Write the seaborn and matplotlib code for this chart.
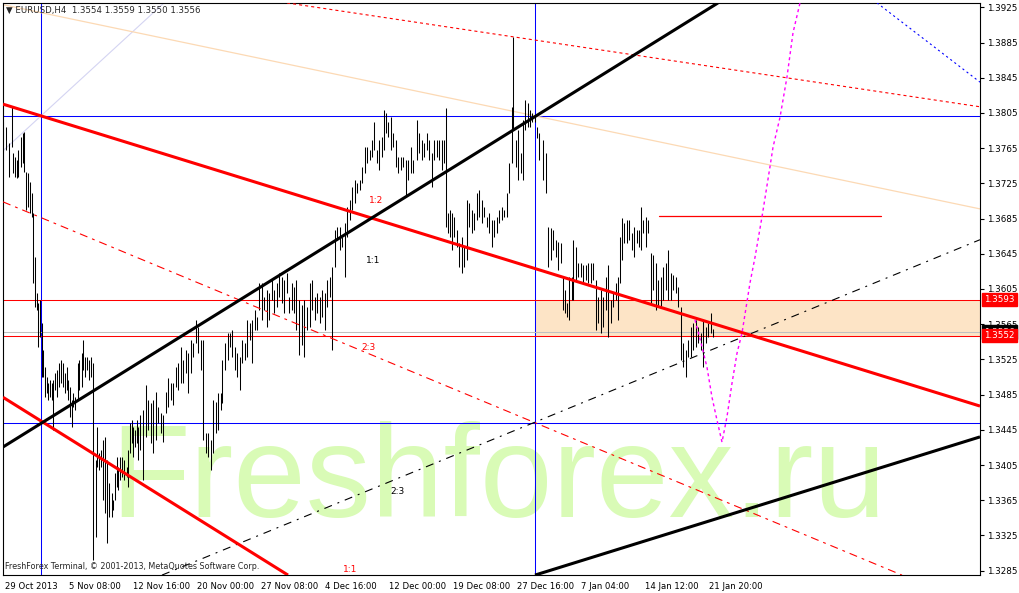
import matplotlib
matplotlib.use('Agg')
import matplotlib.pyplot as plt
import matplotlib.transforms as mtransforms
from matplotlib.patches import Rectangle
import seaborn as sns

sns.set_style('white')
plt.rcParams['font.family'] = ['DejaVu Sans']
plt.rcParams['lines.scale_dashes'] = False

# H4 bars: bar number, high, low
bar_pos = [0, 1.5, 3, 4.5, 5, 6, 7, 7.5, 9, 10, 10.5, 11.5, 12.5, 13.5, 14.5, 15, 16, 17, 17.5, 18.5,
           19.5, 20, 21, 22, 22.5, 23.5, 24.5, 25, 26, 27, 28, 29, 30, 31, 32, 32.5, 33.5, 34.5, 35, 36,
           37.5, 38, 39.5, 40, 41, 42, 43, 44, 45, 46.5, 47, 48, 49, 50, 51, 52, 53, 54.5, 55, 56,
           57, 57.5, 58.5, 59.5, 60.5, 62, 62.5, 63.5, 64.5, 65, 66, 67, 67.5, 68.5, 70, 71.5, 72.5, 74, 75, 76.5,
           77.5, 79, 80, 81.5, 82.5, 84, 85, 86.5, 87.5, 89, 90, 91.5, 92.5, 94, 95, 96.5, 97.5, 99, 100, 101.5,
           102.5, 104, 105, 106.5, 107.5, 109, 109.5, 111, 112.5, 113.5, 114.5, 116, 117, 118.5, 119.5, 121, 122, 123.5, 124.5, 126,
           127, 128, 129.5, 130.5, 132, 133, 134.5, 135.5, 137, 138, 139.5, 140.5, 142, 143, 144.5, 145.5, 146.5, 148, 149.5, 150.5,
           152, 153.5, 154.5, 156, 157, 158.5, 159.5, 161, 162, 163.5, 164.5, 166, 167, 168.5, 169.5, 171, 172, 173.5, 174.5, 176,
           177, 178.5, 179.5, 181, 182, 183.5, 184.5, 185.5, 187, 188, 189.5, 190.5, 191.5, 192.5, 194, 195, 196.5, 197.5, 199, 200,
           201.5, 202.5, 204, 205, 207, 208, 209.5, 210.5, 212, 213, 214.5, 215.5, 217, 218, 219.5, 220.5, 221.5, 222.5, 223.5, 224.5,
           225.5, 227, 228, 229.5, 230.5, 232, 233, 234.5, 235.5, 237, 238, 239.5, 240.5, 242, 243, 244.5, 245.5, 247, 248, 249.5,
           250.5, 252, 253, 254.5, 255, 256.5, 257.5, 259, 260, 261, 262.5, 263.5, 264.5, 266, 267, 268, 270, 271.5, 272.5, 274,
           275, 276.5, 277.5, 279, 280, 281, 282, 283, 284.5, 285, 286.5, 287.5, 289, 290, 291.5, 292.5, 294, 295, 296.5, 297.5,
           299, 300, 301.5, 302.5, 304, 305, 306.5, 307.5, 308.5, 309.5, 310.5, 312, 313, 314.5, 315.5, 317, 318, 319, 320, 321.5,
           322.5, 324, 325, 326.5, 327.5, 329, 330, 331.5, 332.5, 334, 335, 336.5, 337.5, 339, 340, 341.5, 342.5, 344, 345, 346.5,
           347.5, 349, 350, 351.5, 352.5, 354, 355]
bar_high = [1.3795, 1.3789, 1.3771, 1.3812, 1.3760, 1.3755, 1.3752, 1.3763, 1.3778, 1.3782, 1.3783, 1.3738, 1.3737, 1.3727, 1.3714, 1.3691, 1.3641, 1.3601, 1.3589, 1.3593,
            1.3566, 1.3536, 1.3516, 1.3505, 1.3498, 1.3502, 1.3498, 1.3502, 1.3510, 1.3513, 1.3521, 1.3524, 1.3521, 1.3510, 1.3516, 1.3502, 1.3494, 1.3479, 1.3487, 1.3482,
            1.3521, 1.3524, 1.3532, 1.3547, 1.3528, 1.3528, 1.3524, 1.3528, 1.3521, 1.3411, 1.3448, 1.3419, 1.3422, 1.3434, 1.3437, 1.3411, 1.3385, 1.3373, 1.3365, 1.3396,
            1.3414, 1.3403, 1.3414, 1.3414, 1.3411, 1.3403, 1.3422, 1.3453, 1.3456, 1.3448, 1.3445, 1.3456, 1.3448, 1.3462, 1.3468, 1.3496, 1.3479, 1.3476, 1.3479, 1.3488,
            1.3471, 1.3464, 1.3462, 1.3488, 1.3504, 1.3498, 1.3498, 1.3516, 1.3521, 1.3539, 1.3524, 1.3536, 1.3532, 1.3547, 1.3544, 1.3570, 1.3562, 1.3547, 1.3547, 1.3441,
            1.3441, 1.3434, 1.3479, 1.3477, 1.3487, 1.3487, 1.3524, 1.3544, 1.3555, 1.3555, 1.3558, 1.3539, 1.3532, 1.3528, 1.3547, 1.3544, 1.3570, 1.3566, 1.3570, 1.3581,
            1.3573, 1.3612, 1.3612, 1.3596, 1.3604, 1.3601, 1.3615, 1.3604, 1.3612, 1.3623, 1.3619, 1.3615, 1.3623, 1.3596, 1.3612, 1.3607, 1.3615, 1.3593, 1.3587, 1.3593,
            1.3585, 1.3612, 1.3615, 1.3596, 1.3601, 1.3596, 1.3604, 1.3601, 1.3615, 1.3619, 1.3630, 1.3672, 1.3675, 1.3675, 1.3664, 1.3680, 1.3698, 1.3706, 1.3721, 1.3729,
            1.3725, 1.3729, 1.3744, 1.3766, 1.3766, 1.3763, 1.3774, 1.3795, 1.3763, 1.3774, 1.3778, 1.3808, 1.3805, 1.3795, 1.3800, 1.3782, 1.3774, 1.3755, 1.3755, 1.3755,
            1.3752, 1.3752, 1.3766, 1.3752, 1.3797, 1.3782, 1.3774, 1.3771, 1.3782, 1.3774, 1.3760, 1.3774, 1.3774, 1.3774, 1.3774, 1.3774, 1.3811, 1.3691, 1.3695, 1.3691,
            1.3687, 1.3672, 1.3657, 1.3664, 1.3653, 1.3706, 1.3703, 1.3695, 1.3691, 1.3714, 1.3718, 1.3706, 1.3698, 1.3687, 1.3691, 1.3683, 1.3683, 1.3687, 1.3695, 1.3698,
            1.3695, 1.3714, 1.3748, 1.3812, 1.3891, 1.3774, 1.3786, 1.3760, 1.3797, 1.3820, 1.3816, 1.3808, 1.3805, 1.3800, 1.3789, 1.3782, 1.3774, 1.3760, 1.3675, 1.3674,
            1.3672, 1.3661, 1.3658, 1.3657, 1.3619, 1.3604, 1.3589, 1.3619, 1.3619, 1.3661, 1.3653, 1.3635, 1.3635, 1.3632, 1.3632, 1.3635, 1.3635, 1.3635, 1.3615, 1.3596,
            1.3604, 1.3596, 1.3619, 1.3632, 1.3593, 1.3601, 1.3612, 1.3619, 1.3664, 1.3686, 1.3680, 1.3683, 1.3683, 1.3669, 1.3675, 1.3672, 1.3672, 1.3698, 1.3683, 1.3687,
            1.3683, 1.3646, 1.3644, 1.3635, 1.3615, 1.3619, 1.3630, 1.3635, 1.3649, 1.3623, 1.3621, 1.3619, 1.3607, 1.3585, 1.3544, 1.3536, 1.3547, 1.3562, 1.3566, 1.3570,
            1.3562, 1.3555, 1.3570, 1.3562, 1.3566, 1.3578, 1.3559]
bar_low = [1.3769, 1.3763, 1.3732, 1.3766, 1.3737, 1.3732, 1.3731, 1.3732, 1.3744, 1.3748, 1.3738, 1.3695, 1.3698, 1.3691, 1.3687, 1.3612, 1.3585, 1.3581, 1.3539, 1.3551,
           1.3505, 1.3505, 1.3482, 1.3487, 1.3479, 1.3482, 1.3479, 1.3445, 1.3490, 1.3482, 1.3494, 1.3498, 1.3494, 1.3487, 1.3490, 1.3479, 1.3460, 1.3448, 1.3471, 1.3468,
           1.3479, 1.3490, 1.3494, 1.3513, 1.3505, 1.3513, 1.3502, 1.3505, 1.3297, 1.3323, 1.3403, 1.3399, 1.3403, 1.3365, 1.3351, 1.3317, 1.3346, 1.3346, 1.3354, 1.3365,
           1.3380, 1.3377, 1.3388, 1.3391, 1.3388, 1.3391, 1.3380, 1.3419, 1.3430, 1.3414, 1.3426, 1.3430, 1.3411, 1.3422, 1.3388, 1.3437, 1.3445, 1.3430, 1.3419, 1.3434,
           1.3453, 1.3441, 1.3431, 1.3464, 1.3471, 1.3479, 1.3473, 1.3494, 1.3490, 1.3498, 1.3498, 1.3510, 1.3487, 1.3510, 1.3528, 1.3544, 1.3532, 1.3513, 1.3434, 1.3419,
           1.3414, 1.3399, 1.3419, 1.3441, 1.3445, 1.3468, 1.3476, 1.3513, 1.3524, 1.3539, 1.3528, 1.3513, 1.3505, 1.3490, 1.3521, 1.3524, 1.3528, 1.3547, 1.3521, 1.3558,
           1.3558, 1.3581, 1.3570, 1.3581, 1.3562, 1.3570, 1.3593, 1.3578, 1.3585, 1.3596, 1.3589, 1.3578, 1.3601, 1.3578, 1.3581, 1.3578, 1.3558, 1.3530, 1.3541, 1.3528,
           1.3558, 1.3562, 1.3581, 1.3570, 1.3578, 1.3566, 1.3573, 1.3558, 1.3585, 1.3596, 1.3536, 1.3630, 1.3661, 1.3649, 1.3653, 1.3619, 1.3664, 1.3683, 1.3695, 1.3703,
           1.3714, 1.3718, 1.3725, 1.3737, 1.3748, 1.3752, 1.3755, 1.3763, 1.3748, 1.3740, 1.3755, 1.3763, 1.3782, 1.3778, 1.3763, 1.3766, 1.3744, 1.3737, 1.3740, 1.3744,
           1.3710, 1.3729, 1.3737, 1.3737, 1.3752, 1.3760, 1.3752, 1.3755, 1.3763, 1.3752, 1.3721, 1.3752, 1.3755, 1.3752, 1.3740, 1.3748, 1.3675, 1.3669, 1.3664, 1.3649,
           1.3664, 1.3653, 1.3630, 1.3623, 1.3630, 1.3638, 1.3675, 1.3669, 1.3672, 1.3683, 1.3687, 1.3680, 1.3687, 1.3675, 1.3669, 1.3653, 1.3664, 1.3669, 1.3680, 1.3683,
           1.3687, 1.3687, 1.3714, 1.3748, 1.3786, 1.3744, 1.3729, 1.3737, 1.3729, 1.3786, 1.3789, 1.3789, 1.3795, 1.3795, 1.3777, 1.3752, 1.3729, 1.3714, 1.3630, 1.3638,
           1.3649, 1.3641, 1.3627, 1.3635, 1.3581, 1.3578, 1.3573, 1.3570, 1.3593, 1.3593, 1.3615, 1.3619, 1.3619, 1.3612, 1.3615, 1.3612, 1.3612, 1.3615, 1.3558, 1.3566,
           1.3555, 1.3562, 1.3581, 1.3551, 1.3566, 1.3585, 1.3593, 1.3570, 1.3612, 1.3638, 1.3657, 1.3657, 1.3661, 1.3649, 1.3641, 1.3657, 1.3653, 1.3649, 1.3669, 1.3653,
           1.3669, 1.3589, 1.3604, 1.3581, 1.3585, 1.3585, 1.3593, 1.3604, 1.3593, 1.3593, 1.3604, 1.3601, 1.3585, 1.3524, 1.3516, 1.3505, 1.3528, 1.3528, 1.3536, 1.3539,
           1.3544, 1.3536, 1.3516, 1.3544, 1.3551, 1.3555, 1.3550]

# drawn objects: (bar number, price) end points
red_channel_top = ([0, 488.5], [1.3815, 1.3472])
red_channel_low = ([0, 142.5], [1.3482, 1.3280])
black_channel_top = ([0, 357.5], [1.34255, 1.3930])
black_channel_low = ([266, 488.5], [1.3280, 1.3437])
red_dashdot = ([0, 449.5], [1.3704, 1.3280])
red_dotted = ([142, 488.5], [1.3930, 1.3812])
peach_line = ([0, 488.5], [1.3928, 1.3696])
lavender_line = ([0, 80.5], [1.3762, 1.3930])
black_dashdot = ([79.5, 488.5], [1.3280, 1.3661])
blue_dotted = ([437, 488.5], [1.3930, 1.3840])
red_target = ([328, 439], [1.3688, 1.3688])

forecast_pos = [346, 349, 352, 354.5, 357, 359.5, 362, 364.5, 367, 369.5, 373.5, 376, 379.5, 383.5, 385,
                388.5, 392, 395, 398.5]
forecast_price = [1.3570, 1.3544, 1.3516, 1.3482, 1.3456, 1.3431, 1.3460, 1.3498, 1.3532, 1.3555, 1.3612,
                  1.3641, 1.3687, 1.3744, 1.3766, 1.3800, 1.3846, 1.3896, 1.3930]

blue_levels = [1.3801, 1.3453]
blue_times = [19, 266]
zone_start = 266
zone_low, zone_high = 1.3552, 1.3593
last_price = 1.3556

ratio_text = ['1:2', '1:1', '2:3', '2:3', '1:1']
ratio_pos = [186.5, 185, 182.5, 197, 173.5]
ratio_price = [1.37061, 1.36379, 1.35391, 1.33744, 1.32858]
ratio_color = ['red', 'black', 'red', 'black', 'red']

ytick_vals = [1.3285, 1.3325, 1.3365, 1.3405, 1.3445, 1.3485, 1.3525, 1.3565, 1.3605,
              1.3645, 1.3685, 1.3725, 1.3765, 1.3805, 1.3845, 1.3885, 1.3925]
xtick_pos = [0, 32, 64, 96, 128, 160, 192, 224, 256, 288, 320, 352]
xtick_labels = ['29 Oct 2013', '5 Nov 08:00', '12 Nov 16:00', '20 Nov 00:00', '27 Nov 08:00',
                '4 Dec 16:00', '12 Dec 00:00', '19 Dec 08:00', '27 Dec 16:00', '7 Jan 04:00',
                '14 Jan 12:00', '21 Jan 20:00']

fig = plt.figure(figsize=(10.2, 5.93), dpi=100)
ax = fig.add_axes([3 / 1020, 18 / 593, 977 / 1020, 572 / 593])
ax.set_xlim(0, 488.5)
ax.set_ylim(1.32801, 1.39299)

# watermark
ax.text(0.1095, 0.1014, 'Freshforex.ru', transform=ax.transAxes, fontsize=94,
        family='Liberation Sans', color='#d9fbb6', va='baseline', ha='left', zorder=0.5)

ax.add_patch(Rectangle((zone_start, zone_low), ax.get_xlim()[1] - zone_start, zone_high - zone_low,
                       fc='#fde4c6', ec='none', zorder=1))
for lv in blue_levels:
    ax.axhline(lv, color='#0000ff', lw=0.75, zorder=2)
for t in blue_times:
    ax.axvline(t, color='#0000ff', lw=0.75, zorder=2)
ax.axhline(last_price, color='#c0c0c0', lw=0.75, zorder=2)
ax.axhline(zone_high, color='red', lw=0.75, zorder=2)
ax.axhline(zone_low, color='red', lw=0.75, zorder=2)

ax.vlines(bar_pos, bar_low, bar_high, color='black', lw=0.75, zorder=3)

ax.plot(*lavender_line, color='#d4d4f2', lw=0.8, zorder=2.5)
ax.plot(*peach_line, color='#fcd9b4', lw=0.9, zorder=2.5)
ax.plot(*red_dotted, color='red', lw=0.8, ls=(0, (2.2, 2.2)), zorder=4)
ax.plot(*red_dashdot, color='red', lw=0.8, ls=(0, (5.8, 3.6, 2.0, 3.6)), zorder=4)
ax.plot(*black_dashdot, color='black', lw=0.8, ls=(0, (5.8, 4.3, 1.4, 4.3)), zorder=4)
ax.plot(*blue_dotted, color='#0000ff', lw=0.8, ls=(0, (1.5, 2.2)), zorder=4)
ax.plot(*red_target, color='red', lw=0.9, zorder=4)
ax.plot(*red_channel_top, color='red', lw=2.2, solid_capstyle='butt', zorder=4)
ax.plot(*red_channel_low, color='red', lw=2.2, solid_capstyle='butt', zorder=4)
ax.plot(*black_channel_top, color='black', lw=2.2, solid_capstyle='butt', zorder=4)
ax.plot(*black_channel_low, color='black', lw=2.2, solid_capstyle='butt', zorder=4)

sns.lineplot(x=forecast_pos, y=forecast_price, ax=ax, color='#ff00ff', lw=1.0,
             linestyle=(0, (2.2, 2.2)), zorder=4)

for txt, p, pr, c in zip(ratio_text, ratio_pos, ratio_price, ratio_color):
    ax.text(p, pr, txt, color=c, fontsize=6.5, ha='center', va='center', zorder=5)

ax.text(0.003, 0.987, '\u25bc EURUSD,H4  1.3554 1.3559 1.3550 1.3556', transform=ax.transAxes,
        fontsize=6.2, va='center', ha='left', zorder=10)
ax.text(0.002, 0.0157, 'FreshForex Terminal, \u00a9 2001-2013, MetaQuotes Software Corp.',
        transform=ax.transAxes, fontsize=5.8, va='center', ha='left', zorder=10)

# axes
ax.yaxis.tick_right()
ax.set_yticks(ytick_vals)
ax.set_yticklabels([f'{v:.4f}' for v in ytick_vals])
ax.set_xticks(xtick_pos)
ax.set_xticklabels(xtick_labels, ha='left')
ax.tick_params(axis='y', direction='out', length=3, width=0.8, pad=2, labelsize=6.3, colors='black')
ax.tick_params(axis='x', direction='out', length=3, width=0.8, pad=2, labelsize=6.1, colors='black')
off = mtransforms.ScaledTranslation(2 / 100, 0, fig.dpi_scale_trans)
for lbl in ax.get_xticklabels():
    lbl.set_transform(lbl.get_transform() + off)
for s in ax.spines.values():
    s.set_visible(True)
    s.set_color('black')
    s.set_linewidth(0.8)
ax.grid(False)

for pr, c in [(last_price, 'black'), (zone_high, 'red'), (zone_low, 'red')]:
    ax.annotate(f'{pr:.4f}', xy=(1, pr), xycoords=('axes fraction', 'data'), xytext=(3, 0),
                textcoords='offset points', va='center', ha='left', fontsize=6.3, color='white',
                bbox=dict(boxstyle='square,pad=0.25', fc=c, ec=c), annotation_clip=False, zorder=10)

fig.savefig('out.png', dpi=100, facecolor='white')
